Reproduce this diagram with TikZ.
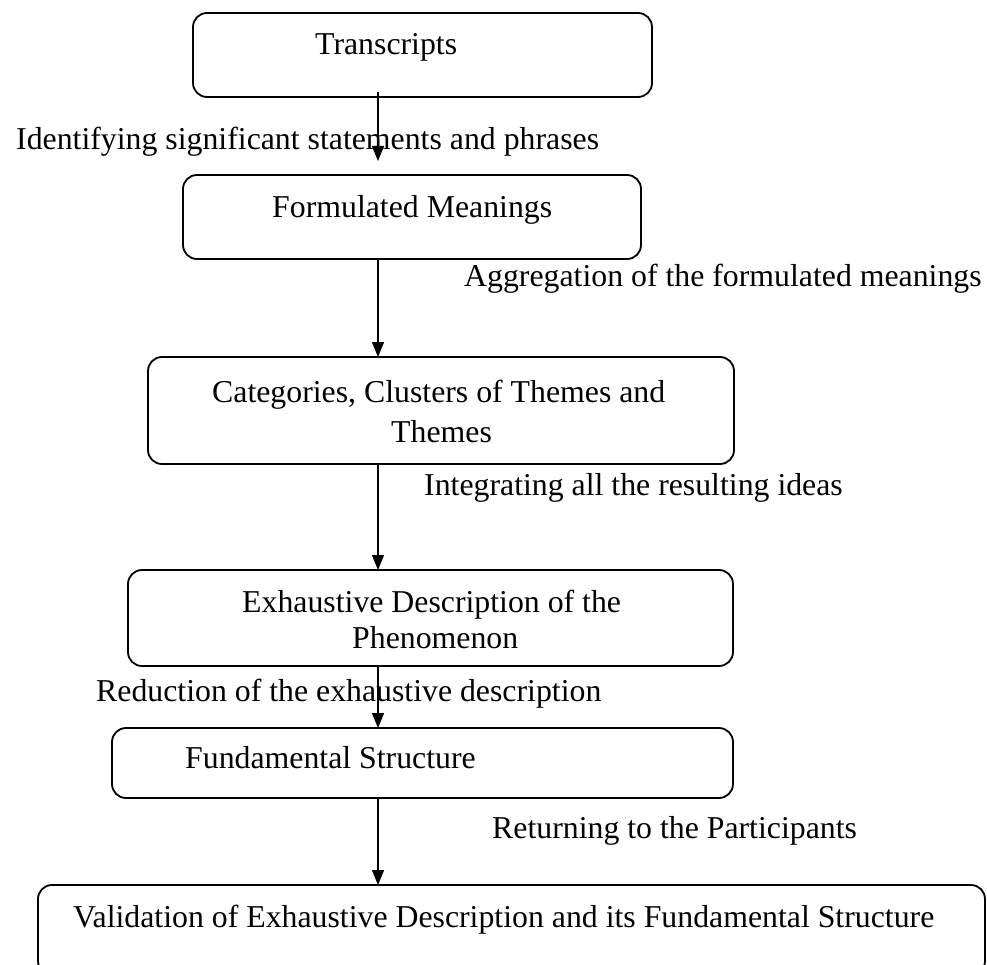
\documentclass[tikz,border=0pt]{standalone}
\usepackage{fontspec}
\setmainfont{Liberation Serif}
\usetikzlibrary{arrows.meta}
\tikzset{
  box/.style={draw=black, line width=1.8pt, rounded corners=14pt},
  lbl/.style={anchor=base west, inner sep=0pt, font=\fontsize{31.8}{40}\selectfont},
  arr/.style={draw=black, line width=1.3pt, -{Triangle[length=15pt,width=12pt]}}
}
\begin{document}
\begin{tikzpicture}[x=1pt,y=-1pt]
\useasboundingbox (0,0) rectangle (987,965);
\clip (0,0) rectangle (987,965);
% boxes
\draw[box] (193,13) rectangle (652,97);
\coordinate (b1s) at (378,92);
\coordinate (b2n) at (378,161);
\draw[box] (183,175) rectangle (641,259);
\coordinate (b2s) at (378,259);
\coordinate (b3n) at (378,357);
\draw[box] (148,357) rectangle (734,464);
\coordinate (b3s) at (378,464);
\coordinate (b4n) at (378,570);
\draw[box] (128,570) rectangle (733,666);
\coordinate (b4s) at (378,666);
\coordinate (b5n) at (378,728);
\draw[box] (112,728) rectangle (733,798);
\coordinate (b5s) at (378,798);
\coordinate (b6n) at (378,885);
\draw[box] (38,885) rectangle (985,975);
% texts
\node[lbl] (t1) at (315,55) {Transcripts};
\node[lbl] (l1) at (16,150) {Identifying significant statements and phrases};
\node[lbl] (t2) at (272,218) {Formulated Meanings};
\node[lbl] (l2) at (464,287) {Aggregation of the formulated meanings};
\node[lbl] (t3a) at (212,402) {Categories, Clusters of Themes and};
\node[lbl] (t3b) at (391,442) {Themes};
\node[lbl] (l3) at (424,495) {Integrating all the resulting ideas};
\node[lbl] (t4a) at (242,612) {Exhaustive Description of the};
\node[lbl] (t4b) at (352,648) {Phenomenon};
\node[lbl] (l4) at (96,701) {Reduction of the exhaustive description};
\node[lbl] (t5) at (185,768) {Fundamental Structure};
\node[lbl] (l5) at (492,838) {Returning to the Participants};
\node[lbl] (t6) at (73,927) {Validation of Exhaustive Description and its Fundamental Structure};
% arrows
\draw[arr] (b1s) -- (b2n);
\draw[arr] (b2s) -- (b3n);
\draw[arr] (b3s) -- (b4n);
\draw[arr] (b4s) -- (b5n);
\draw[arr] (b5s) -- (b6n);
\end{tikzpicture}
\end{document}
